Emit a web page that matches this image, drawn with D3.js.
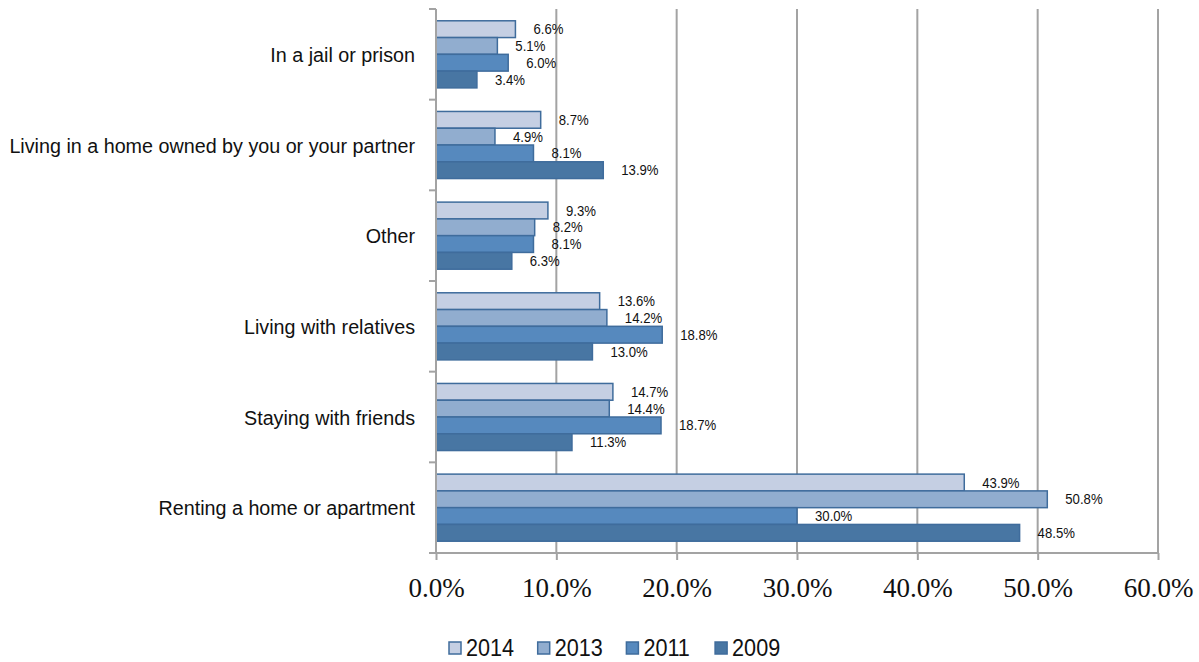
<!DOCTYPE html>
<html>
<head>
<meta charset="utf-8">
<script src="https://cdn.jsdelivr.net/npm/d3@7"></script>
<style>
  html, body { margin: 0; padding: 0; background: #ffffff; }
  svg { display: block; }
</style>
</head>
<body>
<svg id="chart" width="1199" height="662"></svg>
<script>
// Housing situation by survey year (percent of respondents)
const categories = [
  "In a jail or prison",
  "Living in a home owned by you or your partner",
  "Other",
  "Living with relatives",
  "Staying with friends",
  "Renting a home or apartment"
];
const years = ["2014", "2013", "2011", "2009"];
const values2014 = [6.6, 8.7, 9.3, 13.6, 14.7, 43.9];
const values2013 = [5.1, 4.9, 8.2, 14.2, 14.4, 50.8];
const values2011 = [6.0, 8.1, 8.1, 18.8, 18.7, 30.0];
const values2009 = [3.4, 13.9, 6.3, 13.0, 11.3, 48.5];
const xTicks = [0, 10, 20, 30, 40, 50, 60];

const seriesValues = { "2014": values2014, "2013": values2013, "2011": values2011, "2009": values2009 };
const colors = { "2014": "#c5cfe3", "2013": "#91adcf", "2011": "#5689be", "2009": "#4876a3" };
const barStroke = "#3f6c9c";
const sansFont = "'Liberation Sans', Arial, sans-serif";
const narrow = 0.94; // slight horizontal condensing of sans labels

const svg = d3.select("#chart");
const plot = { left: 436, right: 1158, top: 9, bottom: 553 };

const x = d3.scaleLinear().domain([0, 60]).range([plot.left, plot.right]);
const y = d3.scaleBand().domain(categories).range([plot.top, plot.bottom]).paddingInner(0).paddingOuter(0);
const yInner = d3.scaleBand().domain(years)
  .range([y.bandwidth() * 0.13, y.bandwidth() * 0.87]).padding(0);

const gridColor = "#a3a3a3";

// Vertical gridlines
svg.append("g").selectAll("line").data(xTicks.slice(1)).join("line")
  .attr("x1", d => x(d)).attr("x2", d => x(d))
  .attr("y1", plot.top).attr("y2", plot.bottom)
  .attr("stroke", gridColor).attr("stroke-width", 2);

// Bars
const rows = [];
categories.forEach((c, i) => {
  years.forEach(yr => rows.push({ cat: c, year: yr, value: seriesValues[yr][i] }));
});

svg.append("g").selectAll("rect").data(rows).join("rect")
  .attr("x", x(0))
  .attr("y", d => y(d.cat) + yInner(d.year))
  .attr("width", d => x(d.value) - x(0))
  .attr("height", yInner.bandwidth())
  .attr("fill", d => colors[d.year])
  .attr("stroke", barStroke)
  .attr("stroke-width", 1.5);

// Value labels
svg.append("g").selectAll("text").data(rows).join("text")
  .attr("transform", d => `translate(${x(d.value) + 18},${y(d.cat) + yInner(d.year) + yInner.bandwidth() / 2}) scale(${narrow},1)`)
  .attr("dy", "0.36em")
  .attr("font-family", sansFont)
  .attr("font-size", 14)
  .attr("fill", "#111")
  .text(d => d.value.toFixed(1) + "%");

// X axis
const xAxis = d3.axisBottom(x).tickValues(xTicks).tickSize(7).tickFormat(d => d.toFixed(1) + "%");
const gx = svg.append("g").attr("transform", `translate(0,${plot.bottom})`).call(xAxis);
gx.select(".domain").attr("stroke", gridColor).attr("stroke-width", 2)
  .attr("d", `M${plot.left},0H${plot.right}`);
gx.selectAll(".tick line").attr("stroke", gridColor).attr("stroke-width", 2);
gx.selectAll(".tick text")
  .attr("y", 44).attr("dy", 0)
  .attr("font-family", "'Liberation Serif', 'Times New Roman', serif")
  .attr("font-size", 27)
  .attr("fill", "#111");

// Y axis with ticks at band boundaries
const boundaries = categories.map(c => y(c)).concat([plot.bottom]);
const gy = svg.append("g");
gy.append("line")
  .attr("x1", plot.left).attr("x2", plot.left)
  .attr("y1", plot.top).attr("y2", plot.bottom)
  .attr("stroke", gridColor).attr("stroke-width", 2);
gy.selectAll("line.tick").data(boundaries).join("line")
  .attr("class", "tick")
  .attr("x1", plot.left - 7).attr("x2", plot.left)
  .attr("y1", d => d).attr("y2", d => d)
  .attr("stroke", gridColor).attr("stroke-width", 2);

// Category labels
svg.append("g").selectAll("text").data(categories).join("text")
  .attr("transform", d => `translate(415,${y(d) + y.bandwidth() / 2}) scale(${narrow},1)`)
  .attr("dy", "0.36em")
  .attr("text-anchor", "end")
  .attr("font-family", sansFont)
  .attr("font-size", 21)
  .attr("fill", "#111")
  .text(d => d);

// Legend
const legend = svg.append("g").attr("transform", "translate(449,648)");
const item = legend.selectAll("g").data(years).join("g")
  .attr("transform", (d, i) => `translate(${i * 88.7},0)`);
item.append("rect")
  .attr("x", 0).attr("y", -6).attr("width", 12).attr("height", 12)
  .attr("fill", d => colors[d]).attr("stroke", barStroke).attr("stroke-width", 1.5);
item.append("text")
  .attr("transform", `translate(17,0) scale(${narrow},1)`)
  .attr("dy", "0.36em")
  .attr("font-family", sansFont)
  .attr("font-size", 23)
  .attr("fill", "#111")
  .text(d => d);
</script>
</body>
</html>
